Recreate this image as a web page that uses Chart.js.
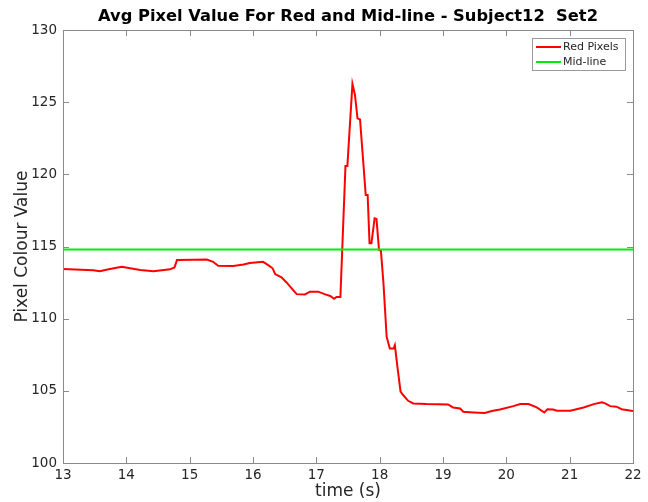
<!DOCTYPE html>
<html>
<head>
<meta charset="utf-8">
<script src="https://cdn.jsdelivr.net/npm/chart.js@4.4.0/dist/chart.umd.min.js"></script>
<style>
  html, body { margin: 0; padding: 0; background: #ffffff; }
  #wrap { width: 648px; height: 502px; }
</style>
</head>
<body>
<div id="wrap"><canvas id="myChart" width="648" height="502"></canvas></div>
<script>
// time stamps (s)
var timeValues = [13.00, 13.48, 13.58, 13.74, 13.93, 14.06, 14.22, 14.43, 14.69, 14.76,
    14.80, 15.06, 15.27, 15.37, 15.45, 15.69, 15.85, 15.95, 16.16, 16.24,
    16.31, 16.35, 16.45, 16.53, 16.61, 16.69, 16.82, 16.90, 17.03, 17.14,
    17.22, 17.28, 17.32, 17.38, 17.46, 17.49, 17.57, 17.61, 17.65, 17.69,
    17.78, 17.81, 17.84, 17.87, 17.92, 17.95, 17.99, 18.02, 18.06, 18.11,
    18.16, 18.22, 18.24, 18.28, 18.33, 18.37, 18.45, 18.53, 18.74, 19.08,
    19.16, 19.27, 19.32, 19.48, 19.66, 19.77, 19.90, 20.11, 20.22, 20.35,
    20.48, 20.60, 20.65, 20.74, 20.80, 21.01, 21.22, 21.38, 21.51, 21.56,
    21.64, 21.74, 21.82, 22.00];

// average red pixel value at each time stamp
var redValues = [113.44, 113.35, 113.28, 113.44, 113.60, 113.50, 113.37, 113.28, 113.42, 113.55,
    114.06, 114.08, 114.10, 113.94, 113.67, 113.65, 113.76, 113.85, 113.94, 113.71,
    113.49, 113.09, 112.86, 112.51, 112.10, 111.70, 111.68, 111.87, 111.87, 111.68,
    111.57, 111.38, 111.50, 111.50, 120.58, 120.58, 126.26, 125.50, 123.88, 123.80,
    118.57, 118.57, 115.22, 115.22, 116.95, 116.90, 114.75, 114.70, 112.45, 108.75,
    107.94, 107.94, 108.17, 106.67, 104.94, 104.71, 104.31, 104.13, 104.08, 104.06,
    103.85, 103.78, 103.55, 103.50, 103.46, 103.60, 103.71, 103.94, 104.08, 104.08,
    103.85, 103.50, 103.73, 103.71, 103.62, 103.62, 103.85, 104.08, 104.20, 104.13,
    103.94, 103.90, 103.73, 103.60];

var midLineValue = 114.8;
var xTicks = [13, 14, 15, 16, 17, 18, 19, 20, 21, 22];
var yTicks = [100, 105, 110, 115, 120, 125, 130];
var chartTitle = 'Avg Pixel Value For Red and Mid-line - Subject12  Set2';

var redPoints = timeValues.map((t, i) => ({ x: t, y: redValues[i] }));
var midPoints = [{ x: xTicks[0], y: midLineValue }, { x: xTicks[xTicks.length - 1], y: midLineValue }];

var FONT = 'DejaVu Sans';
var AXIS_COLOR = '#8a8a8a';
var TEXT_COLOR = '#262626';

// MATLAB-like box with inward ticks, a title centred over the axes and a boxed legend
var matlabAxes = {
    id: 'matlabAxes',
    afterDraw: function (chart) {
        var ctx = chart.ctx;
        var area = chart.chartArea;
        var xs = chart.scales.x, ys = chart.scales.y;
        var tick = 6;
        ctx.save();
        ctx.strokeStyle = AXIS_COLOR;
        ctx.lineWidth = 1;
        ctx.strokeRect(Math.round(area.left) + 0.5, Math.round(area.top) + 0.5,
            Math.round(area.right - area.left), Math.round(area.bottom - area.top));
        ctx.beginPath();
        xTicks.forEach(function (v) {
            var px = Math.round(xs.getPixelForValue(v)) + 0.5;
            ctx.moveTo(px, area.bottom); ctx.lineTo(px, area.bottom - tick);
            ctx.moveTo(px, area.top); ctx.lineTo(px, area.top + tick);
        });
        yTicks.forEach(function (v) {
            var py = Math.round(ys.getPixelForValue(v)) + 0.5;
            ctx.moveTo(area.left, py); ctx.lineTo(area.left + tick, py);
            ctx.moveTo(area.right, py); ctx.lineTo(area.right - tick, py);
        });
        ctx.stroke();

        // title
        ctx.fillStyle = '#000000';
        ctx.font = 'bold 16.3px "' + FONT + '"';
        ctx.textAlign = 'center';
        ctx.textBaseline = 'middle';
        ctx.fillText(chartTitle, (area.left + area.right) / 2, 17);

        // legend box
        var bx = area.right - 101, by = area.top + 8, bw = 93, bh = 32;
        ctx.fillStyle = '#ffffff';
        ctx.fillRect(bx, by, bw, bh);
        ctx.strokeStyle = '#9a9a9a';
        ctx.lineWidth = 1;
        ctx.strokeRect(bx + 0.5, by + 0.5, bw, bh);
        ctx.font = '11px "' + FONT + '"';
        ctx.textBaseline = 'middle';
        ctx.textAlign = 'left';
        chart.data.datasets.forEach(function (ds, i) {
            var ly = by + 9 + i * 15;
            ctx.strokeStyle = ds.borderColor;
            ctx.lineWidth = 2;
            ctx.beginPath();
            ctx.moveTo(bx + 4, ly); ctx.lineTo(bx + 29, ly);
            ctx.stroke();
            ctx.fillStyle = TEXT_COLOR;
            ctx.fillText(ds.label, bx + 31, ly);
        });
        ctx.restore();
    }
};

var ctx = document.getElementById('myChart').getContext('2d');
var pixelChart = new Chart(ctx, {
    type: 'line',
    data: {
        datasets: [
            {
                label: 'Red Pixels',
                data: redPoints,
                borderColor: '#ff0000',
                borderWidth: 2,
                pointRadius: 0,
                tension: 0,
                fill: false,
                order: 2
            },
            {
                label: 'Mid-line',
                data: midPoints,
                borderColor: '#00ee00',
                borderWidth: 2,
                pointRadius: 0,
                fill: false,
                order: 1
            }
        ]
    },
    plugins: [matlabAxes],
    options: {
        responsive: false,
        animation: false,
        events: [],
        layout: { padding: { left: 0, right: 15, top: 30, bottom: 0 } },
        plugins: {
            legend: { display: false },
            tooltip: { enabled: false },
            title: { display: false }
        },
        scales: {
            x: {
                type: 'linear',
                min: 13,
                max: 22,
                afterFit: function (scale) { scale.height = 39; },
                afterBuildTicks: function (scale) { scale.ticks = xTicks.map(v => ({ value: v })); },
                grid: { display: false, drawTicks: false },
                border: { display: false },
                ticks: {
                    color: TEXT_COLOR,
                    font: { family: FONT, size: 13.5 },
                    padding: 4,
                    maxRotation: 0,
                    autoSkip: false
                },
                title: {
                    display: true,
                    text: 'time (s)',
                    color: TEXT_COLOR,
                    font: { family: FONT, size: 17 },
                    padding: { top: 0, bottom: 0 }
                }
            },
            y: {
                type: 'linear',
                min: 100,
                max: 130,
                afterFit: function (scale) { scale.width = 63; },
                afterBuildTicks: function (scale) { scale.ticks = yTicks.map(v => ({ value: v })); },
                grid: { display: false, drawTicks: false },
                border: { display: false },
                ticks: {
                    color: TEXT_COLOR,
                    font: { family: FONT, size: 13.5 },
                    padding: 6,
                    autoSkip: false
                },
                title: {
                    display: true,
                    text: 'Pixel Colour Value',
                    color: TEXT_COLOR,
                    font: { family: FONT, size: 17 },
                    padding: { top: 12, bottom: 0 }
                }
            }
        }
    }
});
</script>
</body>
</html>
